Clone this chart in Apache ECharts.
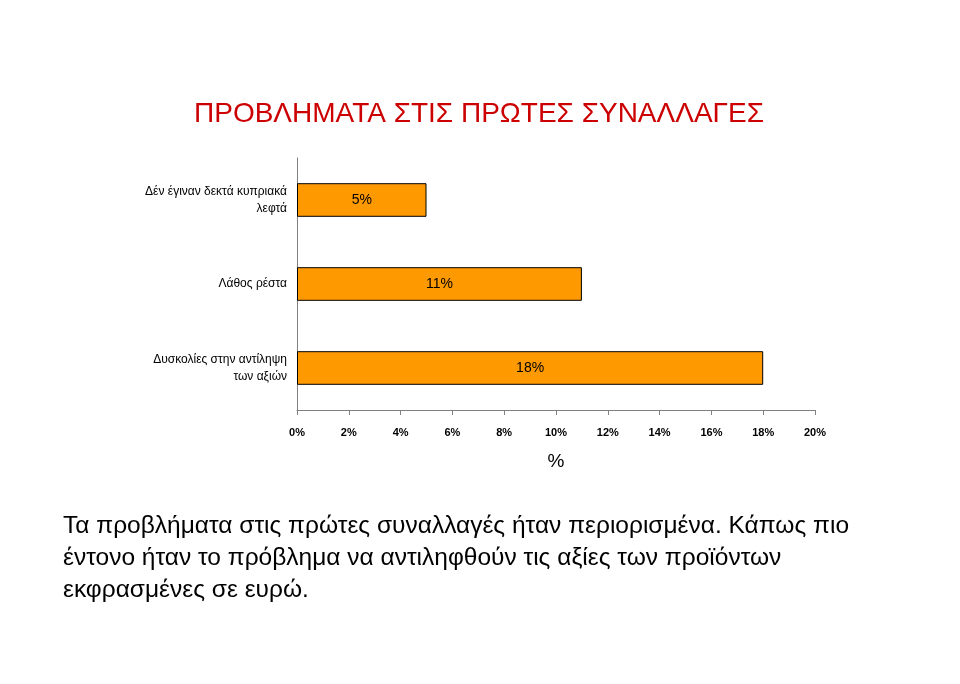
<!DOCTYPE html>
<html><head><meta charset="utf-8">
<script src="https://cdn.jsdelivr.net/npm/echarts@6/dist/echarts.min.js"></script>
<style>html,body{margin:0;padding:0;background:#fff}#c{width:960px;height:684px}</style>
</head><body><div id="c"></div>
<script>
const categories = ["Δέν έγιναν δεκτά κυπριακά\nλεφτά", "Λάθος ρέστα", "Δυσκολίες στην αντίληψη\nτων αξιών"];
const values = [5, 11, 18];
const xTicks = [0, 2, 4, 6, 8, 10, 12, 14, 16, 18, 20];
const title = "ΠΡΟΒΛΗΜΑΤΑ ΣΤΙΣ ΠΡΩΤΕΣ ΣΥΝΑΛΛΑΓΕΣ";
const note = "Τα προβλήματα στις πρώτες συναλλαγές ήταν περιορισμένα. Κάπως πιο\nέντονο ήταν το πρόβλημα να αντιληφθούν τις αξίες των προϊόντων\nεκφρασμένες σε ευρώ.";
const chart = echarts.init(document.getElementById('c'));
chart.setOption({
  animation:false,
  textStyle:{fontFamily:'Liberation Sans, Arial'},
  title:[{text:title,left:189,top:95,textStyle:{color:'#cc0000',fontSize:28,fontWeight:'normal',fontFamily:'Liberation Sans, Arial'}},
    {text:note,left:58,top:505,textStyle:{color:'#000',fontSize:24.5,fontWeight:'normal',lineHeight:32,fontFamily:'Liberation Sans, Arial'}}],
  grid:{left:297,top:158,width:518,height:252},
  xAxis:{type:'value',min:0,max:20,interval:2,name:'%',nameLocation:'middle',nameGap:42,
    nameTextStyle:{fontSize:19,color:'#000'},
    axisLine:{show:true,lineStyle:{color:'#808080'}},axisTick:{show:true,length:5,lineStyle:{color:'#808080'}},
    splitLine:{show:false},
    axisLabel:{formatter:v=>v+'%',fontWeight:'bold',fontSize:11,color:'#000',margin:17}},
  yAxis:{type:'category',data:categories,inverse:true,
    axisLine:{lineStyle:{color:'#808080'}},axisTick:{length:5,lineStyle:{color:'#808080'}},
    axisLabel:{fontSize:12,color:'#000',margin:10,lineHeight:17}},
  series:[{type:'bar',data:values,barWidth:'40%',
    itemStyle:{color:'#ff9900',borderColor:'#000',borderWidth:1},
    label:{show:true,position:'inside',formatter:p=>p.value+'%',fontSize:14,color:'#000'}}]
});
</script></body></html>
